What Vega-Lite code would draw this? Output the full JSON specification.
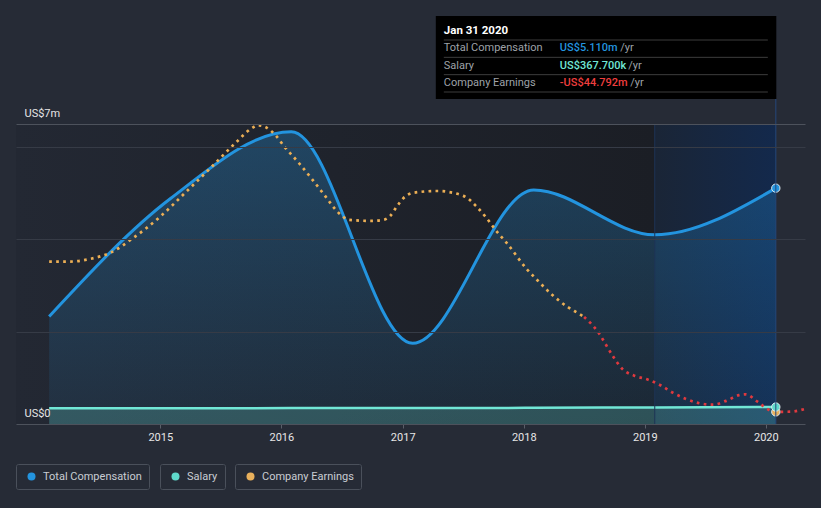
{
  "$schema": "https://vega.github.io/schema/vega-lite/v6.json",
  "width": 789,
  "height": 300,
  "autosize": {"type": "none"},
  "padding": {"left": 16, "top": 124, "right": 16, "bottom": 84},
  "background": "#262b36",
  "config": {"view": {"stroke": null}, "font": "Roboto"},
  "datasets": {
    "comp": [
      {"date": "2014-01-31", "tc": 2.33, "sal": 0.34},
      {"date": "2015-01-31", "tc": 4.88, "sal": 0.34},
      {"date": "2016-01-31", "tc": 6.33, "sal": 0.345},
      {"date": "2017-01-31", "tc": 1.75, "sal": 0.345},
      {"date": "2018-01-31", "tc": 5.07, "sal": 0.35},
      {"date": "2019-01-31", "tc": 4.10, "sal": 0.36},
      {"date": "2020-01-31", "tc": 5.11, "sal": 0.3677}
    ],
    "earnPos": [
      {"date": "2014-01-31", "e": 26.1},
      {"date": "2014-04-03", "e": 26.1},
      {"date": "2014-06-04", "e": 27.4},
      {"date": "2014-08-04", "e": 30.3},
      {"date": "2014-10-12", "e": 37.3},
      {"date": "2015-01-03", "e": 47.6},
      {"date": "2015-03-22", "e": 59.3},
      {"date": "2015-06-05", "e": 70.8},
      {"date": "2015-08-18", "e": 82.4},
      {"date": "2015-10-04", "e": 89.0},
      {"date": "2015-10-23", "e": 90.4},
      {"date": "2015-11-11", "e": 89.8},
      {"date": "2015-12-14", "e": 85.8},
      {"date": "2016-01-12", "e": 80.0},
      {"date": "2016-02-22", "e": 72.8},
      {"date": "2016-04-02", "e": 65.1},
      {"date": "2016-05-10", "e": 57.5},
      {"date": "2016-06-21", "e": 49.2},
      {"date": "2016-07-24", "e": 45.8},
      {"date": "2016-09-25", "e": 45.3},
      {"date": "2016-11-04", "e": 45.8},
      {"date": "2016-11-24", "e": 47.6},
      {"date": "2016-12-14", "e": 52.0},
      {"date": "2017-01-03", "e": 56.0},
      {"date": "2017-02-03", "e": 58.6},
      {"date": "2017-04-15", "e": 59.4},
      {"date": "2017-07-03", "e": 57.1},
      {"date": "2017-08-12", "e": 52.0},
      {"date": "2017-09-11", "e": 46.6},
      {"date": "2017-10-12", "e": 40.2},
      {"date": "2017-11-11", "e": 34.8},
      {"date": "2018-01-10", "e": 22.6},
      {"date": "2018-02-08", "e": 17.8},
      {"date": "2018-03-25", "e": 10.8},
      {"date": "2018-05-14", "e": 4.6},
      {"date": "2018-06-18", "e": 1.4},
      {"date": "2018-07-02", "e": 0}
    ],
    "earnNeg": [
      {"date": "2018-07-02", "e": 0},
      {"date": "2018-07-20", "e": -2.7},
      {"date": "2018-08-17", "e": -8.0},
      {"date": "2018-09-08", "e": -13.7},
      {"date": "2018-09-30", "e": -19.3},
      {"date": "2018-10-25", "e": -24.5},
      {"date": "2018-11-30", "e": -27.7},
      {"date": "2019-01-11", "e": -29.6},
      {"date": "2019-02-17", "e": -32.2},
      {"date": "2019-03-26", "e": -35.7},
      {"date": "2019-05-05", "e": -38.7},
      {"date": "2019-06-14", "e": -40.7},
      {"date": "2019-07-25", "e": -41.4},
      {"date": "2019-09-03", "e": -39.6},
      {"date": "2019-10-12", "e": -36.9},
      {"date": "2019-11-01", "e": -36.5},
      {"date": "2019-12-07", "e": -40.0},
      {"date": "2020-01-11", "e": -43.9},
      {"date": "2020-01-31", "e": -44.792},
      {"date": "2020-03-14", "e": -44.7},
      {"date": "2020-04-28", "e": -43.4}
    ],
    "ends": [
      {"series": "Total Compensation", "date": "2020-01-31", "v": 5.11},
      {"series": "Salary", "date": "2020-01-31", "v": 0.3677},
      {"series": "Company Earnings", "date": "2020-01-31", "v": -44.792}
    ],
    "tip": [
      {"key": "head", "label": "Jan 31 2020"},
      {"key": "tc", "label": "Total Compensation", "value": "US$5.110m", "unit": "/yr"},
      {"key": "sal", "label": "Salary", "value": "US$367.700k", "unit": "/yr"},
      {"key": "earn", "label": "Company Earnings", "value": "-US$44.792m", "unit": "/yr"}
    ],
    "one": [{}]
  },
  "resolve": {"scale": {"y": "independent"}},
  "layer": [
    {
      "layer": [
        {
          "data": {"name": "one"},
          "mark": {"type": "rect", "fill": {"gradient": "linear", "x1": 0, "y1": 0, "x2": 1, "y2": 0, "stops": [{"offset": 0, "color": "#232833"}, {"offset": 1, "color": "#1b1e25"}]}},
          "encoding": {
            "x": {"datum": {"year": 2013, "month": 10, "date": 23, "utc": true}, "type": "temporal",
              "scale": {"type": "utc", "domain": [{"year": 2013, "month": 10, "date": 23, "utc": true}, {"year": 2020, "month": 4, "date": 28, "utc": true}]},
              "axis": {"values": [{"year": 2015, "utc": true}, {"year": 2016, "utc": true}, {"year": 2017, "utc": true}, {"year": 2018, "utc": true}, {"year": 2019, "utc": true}, {"year": 2020, "utc": true}],
                "format": "%Y", "title": null, "grid": false, "domainColor": "#4d525c", "tickColor": "#5a5f69", "tickSize": 4,
                "labelColor": "#e6e6e6", "labelFont": "Roboto", "labelFontSize": 11, "labelPadding": 3, "labelFlush": false, "labelOverlap": false}},
            "x2": {"datum": {"year": 2019, "month": 1, "date": 31, "utc": true}}
          }
        },
        {
          "data": {"name": "one"},
          "mark": {"type": "rect", "fill": {"gradient": "linear", "x1": 0, "y1": 0, "x2": 1, "y2": 0, "stops": [{"offset": 0, "color": "#1a2536"}, {"offset": 1, "color": "#13294c"}]}},
          "encoding": {
            "x": {"datum": {"year": 2019, "month": 1, "date": 31, "utc": true}, "type": "temporal"},
            "x2": {"datum": {"year": 2020, "month": 1, "date": 31, "utc": true}}
          }
        },
        {
          "data": {"name": "comp"},
          "mark": {"type": "area", "interpolate": "monotone", "fill": {"gradient": "linear", "x1": 0, "y1": 0, "x2": 0, "y2": 1, "stops": [{"offset": 0, "color": "rgba(35,148,223,0.30)"}, {"offset": 1, "color": "rgba(35,148,223,0.08)"}]}},
          "encoding": {
            "x": {"field": "date", "type": "temporal"},
            "y": {"field": "tc", "type": "quantitative", "title": null, "scale": {"domain": [0, 6.5], "nice": false, "zero": true},
              "axis": {"values": [0, 2, 4, 6, 6.5], "title": null, "domain": false, "ticks": false, "grid": true, "zindex": 1,
                "labelExpr": "datum.value == 0 ? 'US$0' : datum.value == 6.5 ? 'US$7m' : ''",
                "labelAlign": "left", "labelPadding": -8, "labelBaseline": "alphabetic", "labelOffset": -8,
                "labelColor": "#e6e6e6", "labelFont": "Roboto", "labelFontSize": 11, "labelFlush": false, "labelOverlap": false, "labelBound": false,
                "gridColor": {"condition": {"test": "datum.value == 6.5", "value": "#4d525c"}, "value": "#363b46"},
                "gridOpacity": {"condition": {"test": "datum.value == 0", "value": 0}, "value": 1}}}
          }
        },
        {
          "data": {"name": "comp"},
          "mark": {"type": "area", "interpolate": "monotone", "color": "#71e7d6", "opacity": 0.22},
          "encoding": {
            "x": {"field": "date", "type": "temporal"},
            "y": {"field": "sal", "type": "quantitative", "title": null}
          }
        },
        {
          "data": {"name": "comp"},
          "mark": {"type": "line", "interpolate": "monotone", "color": "#2394df", "strokeWidth": 3},
          "encoding": {
            "x": {"field": "date", "type": "temporal"},
            "y": {"field": "tc", "type": "quantitative", "title": null}
          }
        },
        {
          "data": {"name": "comp"},
          "mark": {"type": "line", "interpolate": "monotone", "color": "#71e7d6", "strokeWidth": 2.5},
          "encoding": {
            "x": {"field": "date", "type": "temporal"},
            "y": {"field": "sal", "type": "quantitative", "title": null}
          }
        },
        {
          "data": {"name": "one"},
          "mark": {"type": "rule", "color": "#1c3354", "strokeWidth": 1},
          "encoding": {
            "x": {"datum": {"year": 2019, "month": 1, "date": 31, "utc": true}, "type": "temporal"}
          }
        }
      ]
    },
    {
      "layer": [
        {
          "data": {"name": "earnPos"},
          "mark": {"type": "line", "interpolate": "monotone", "color": "#ecaf55", "strokeWidth": 2.7, "strokeDash": [2.7, 4.3]},
          "encoding": {
            "x": {"field": "date", "type": "temporal"},
            "y": {"field": "e", "type": "quantitative", "scale": {"domain": [-50.5, 91], "nice": false, "zero": false}, "axis": null}
          }
        },
        {
          "data": {"name": "earnNeg"},
          "mark": {"type": "line", "interpolate": "monotone", "color": "#e0393e", "strokeWidth": 2.7, "strokeDash": [2.7, 4.3]},
          "encoding": {
            "x": {"field": "date", "type": "temporal"},
            "y": {"field": "e", "type": "quantitative", "scale": {"domain": [-50.5, 91], "nice": false, "zero": false}, "axis": null}
          }
        }
      ]
    },
    {
      "data": {"name": "ends"},
      "transform": [{"filter": "datum.series == 'Company Earnings'"}],
      "mark": {"type": "point", "filled": true, "size": 70, "color": "#e8b05c", "stroke": "#dfe8f0", "strokeWidth": 1, "opacity": 1},
      "encoding": {
        "x": {"field": "date", "type": "temporal"},
        "y": {"field": "v", "type": "quantitative", "scale": {"domain": [-50.5, 91], "nice": false, "zero": false}, "axis": null},
        "shape": {"field": "series", "type": "nominal", "scale": {"domain": ["Company Earnings"], "range": ["circle"]},
          "legend": {"orient": "none", "legendX": 219, "legendY": 340, "direction": "horizontal", "title": null, "padding": 7, "strokeColor": "#4a505b", "cornerRadius": 2,
            "labelColor": "#c9cdd3", "labelFont": "Roboto", "labelFontSize": 11, "symbolType": "circle", "symbolSize": 64, "symbolStrokeWidth": 0,
            "symbolFillColor": "#e8b05c", "symbolStrokeColor": "#e8b05c", "labelOffset": 6, "symbolOffset": 3, "labelExpr": "datum.label + '\u00a0\u00a0\u00a0'"}}
      }
    },
    {
      "data": {"name": "ends"},
      "transform": [{"filter": "datum.series == 'Salary'"}],
      "mark": {"type": "point", "filled": true, "size": 70, "stroke": "#dfe8f0", "strokeWidth": 1, "opacity": 1},
      "encoding": {
        "x": {"field": "date", "type": "temporal"},
        "y": {"field": "v", "type": "quantitative", "scale": {"domain": [0, 6.5], "nice": false, "zero": true}, "axis": null},
        "fill": {"field": "series", "type": "nominal", "scale": {"domain": ["Salary"], "range": ["#5fd9cb"]},
          "legend": {"orient": "none", "legendX": 144, "legendY": 340, "direction": "horizontal", "title": null, "padding": 7, "strokeColor": "#4a505b", "cornerRadius": 2,
            "labelColor": "#c9cdd3", "labelFont": "Roboto", "labelFontSize": 11, "symbolType": "circle", "symbolSize": 64, "symbolStrokeWidth": 0, "labelOffset": 6, "symbolOffset": 3, "labelExpr": "datum.label + '\u00a0\u00a0\u00a0'"}}
      }
    },
    {
      "data": {"name": "ends"},
      "transform": [{"filter": "datum.series == 'Total Compensation'"}],
      "mark": {"type": "point", "filled": true, "size": 70, "stroke": "#dfe8f0", "strokeWidth": 1, "opacity": 1},
      "encoding": {
        "x": {"field": "date", "type": "temporal"},
        "y": {"field": "v", "type": "quantitative", "scale": {"domain": [0, 6.5], "nice": false, "zero": true}, "axis": null},
        "color": {"field": "series", "type": "nominal", "scale": {"domain": ["Total Compensation"], "range": ["#2394df"]},
          "legend": {"orient": "none", "legendX": 0, "legendY": 340, "direction": "horizontal", "title": null, "padding": 7, "strokeColor": "#4a505b", "cornerRadius": 2,
            "labelColor": "#c9cdd3", "labelFont": "Roboto", "labelFontSize": 11, "symbolType": "circle", "symbolSize": 64, "symbolStrokeWidth": 0, "labelOffset": 6, "symbolOffset": 3, "labelExpr": "datum.label + '  '"}}
      }
    },
    {
      "layer": [
        {
          "data": {"name": "one"},
          "mark": {"type": "rule", "color": "#24477a", "strokeWidth": 1, "yOffset": 16, "y2Offset": 341},
          "encoding": {
            "x": {"datum": {"year": 2020, "month": 1, "date": 31, "utc": true}, "type": "temporal"},
            "y": {"datum": "earn", "type": "ordinal", "scale": {"type": "point", "domain": ["head", "tc", "sal", "earn"], "range": [-93, -41], "padding": 0}, "axis": null},
            "y2": {"datum": "earn"}
          }
        },
        {
          "data": {"name": "one"},
          "mark": {"type": "rect", "color": "#000000", "xOffset": -340, "x2Offset": 0.5, "yOffset": -15, "y2Offset": 16},
          "encoding": {
            "x": {"datum": {"year": 2020, "month": 1, "date": 31, "utc": true}, "type": "temporal"},
            "x2": {"datum": {"year": 2020, "month": 1, "date": 31, "utc": true}},
            "y": {"datum": "head", "type": "ordinal", "scale": {"type": "point", "domain": ["head", "tc", "sal", "earn"], "range": [-93, -41], "padding": 0}, "axis": null},
            "y2": {"datum": "earn"}
          }
        },
        {
          "data": {"name": "tip"},
          "mark": {"type": "rule", "color": "#3d3d3d", "strokeWidth": 1, "xOffset": -332, "x2Offset": -8, "yOffset": 9},
          "encoding": {
            "x": {"datum": {"year": 2020, "month": 1, "date": 31, "utc": true}, "type": "temporal"},
            "x2": {"datum": {"year": 2020, "month": 1, "date": 31, "utc": true}},
            "y": {"field": "key", "type": "ordinal", "scale": {"type": "point", "domain": ["head", "tc", "sal", "earn"], "range": [-93, -41], "padding": 0}, "axis": null}
          }
        },
        {
          "data": {"name": "tip"},
          "transform": [{"filter": "datum.key == 'head'"}],
          "mark": {"type": "text", "align": "left", "baseline": "middle", "dx": -332, "font": "Roboto", "fontSize": 11.5, "fontWeight": "bold", "color": "#ffffff"},
          "encoding": {
            "x": {"datum": {"year": 2020, "month": 1, "date": 31, "utc": true}, "type": "temporal"},
            "y": {"field": "key", "type": "ordinal", "scale": {"type": "point", "domain": ["head", "tc", "sal", "earn"], "range": [-93, -41], "padding": 0}, "axis": null},
            "text": {"field": "label"}
          }
        },
        {
          "data": {"name": "tip"},
          "transform": [{"filter": "datum.key != 'head'"}],
          "mark": {"type": "text", "align": "left", "baseline": "middle", "dx": -332, "font": "Roboto", "fontSize": 11, "color": "#9ea2a8"},
          "encoding": {
            "x": {"datum": {"year": 2020, "month": 1, "date": 31, "utc": true}, "type": "temporal"},
            "y": {"field": "key", "type": "ordinal", "scale": {"type": "point", "domain": ["head", "tc", "sal", "earn"], "range": [-93, -41], "padding": 0}, "axis": null},
            "text": {"field": "label"}
          }
        },
        {
          "data": {"name": "tip"},
          "transform": [{"filter": "datum.key == 'tc'"}],
          "mark": {"type": "text", "align": "left", "baseline": "middle", "dx": -216, "font": "Roboto", "fontSize": 11, "fontWeight": 500, "color": "#2394df"},
          "encoding": {
            "x": {"datum": {"year": 2020, "month": 1, "date": 31, "utc": true}, "type": "temporal"},
            "y": {"field": "key", "type": "ordinal", "scale": {"type": "point", "domain": ["head", "tc", "sal", "earn"], "range": [-93, -41], "padding": 0}, "axis": null},
            "text": {"field": "value"}
          }
        },
        {
          "data": {"name": "tip"},
          "transform": [{"filter": "datum.key == 'sal'"}],
          "mark": {"type": "text", "align": "left", "baseline": "middle", "dx": -216, "font": "Roboto", "fontSize": 11, "fontWeight": 500, "color": "#71e7d6"},
          "encoding": {
            "x": {"datum": {"year": 2020, "month": 1, "date": 31, "utc": true}, "type": "temporal"},
            "y": {"field": "key", "type": "ordinal", "scale": {"type": "point", "domain": ["head", "tc", "sal", "earn"], "range": [-93, -41], "padding": 0}, "axis": null},
            "text": {"field": "value"}
          }
        },
        {
          "data": {"name": "tip"},
          "transform": [{"filter": "datum.key == 'earn'"}],
          "mark": {"type": "text", "align": "left", "baseline": "middle", "dx": -216, "font": "Roboto", "fontSize": 11, "fontWeight": 500, "color": "#ef3e3e"},
          "encoding": {
            "x": {"datum": {"year": 2020, "month": 1, "date": 31, "utc": true}, "type": "temporal"},
            "y": {"field": "key", "type": "ordinal", "scale": {"type": "point", "domain": ["head", "tc", "sal", "earn"], "range": [-93, -41], "padding": 0}, "axis": null},
            "text": {"field": "value"}
          }
        },
        {
          "data": {"name": "tip"},
          "transform": [{"filter": "datum.key == 'tc'"}],
          "mark": {"type": "text", "align": "left", "baseline": "middle", "dx": -155.5, "font": "Roboto", "fontSize": 11, "color": "#9ea2a8"},
          "encoding": {
            "x": {"datum": {"year": 2020, "month": 1, "date": 31, "utc": true}, "type": "temporal"},
            "y": {"field": "key", "type": "ordinal", "scale": {"type": "point", "domain": ["head", "tc", "sal", "earn"], "range": [-93, -41], "padding": 0}, "axis": null},
            "text": {"field": "unit"}
          }
        },
        {
          "data": {"name": "tip"},
          "transform": [{"filter": "datum.key == 'sal'"}],
          "mark": {"type": "text", "align": "left", "baseline": "middle", "dx": -147.5, "font": "Roboto", "fontSize": 11, "color": "#9ea2a8"},
          "encoding": {
            "x": {"datum": {"year": 2020, "month": 1, "date": 31, "utc": true}, "type": "temporal"},
            "y": {"field": "key", "type": "ordinal", "scale": {"type": "point", "domain": ["head", "tc", "sal", "earn"], "range": [-93, -41], "padding": 0}, "axis": null},
            "text": {"field": "unit"}
          }
        },
        {
          "data": {"name": "tip"},
          "transform": [{"filter": "datum.key == 'earn'"}],
          "mark": {"type": "text", "align": "left", "baseline": "middle", "dx": -145.5, "font": "Roboto", "fontSize": 11, "color": "#9ea2a8"},
          "encoding": {
            "x": {"datum": {"year": 2020, "month": 1, "date": 31, "utc": true}, "type": "temporal"},
            "y": {"field": "key", "type": "ordinal", "scale": {"type": "point", "domain": ["head", "tc", "sal", "earn"], "range": [-93, -41], "padding": 0}, "axis": null},
            "text": {"field": "unit"}
          }
        }
      ]
    }
  ]
}
